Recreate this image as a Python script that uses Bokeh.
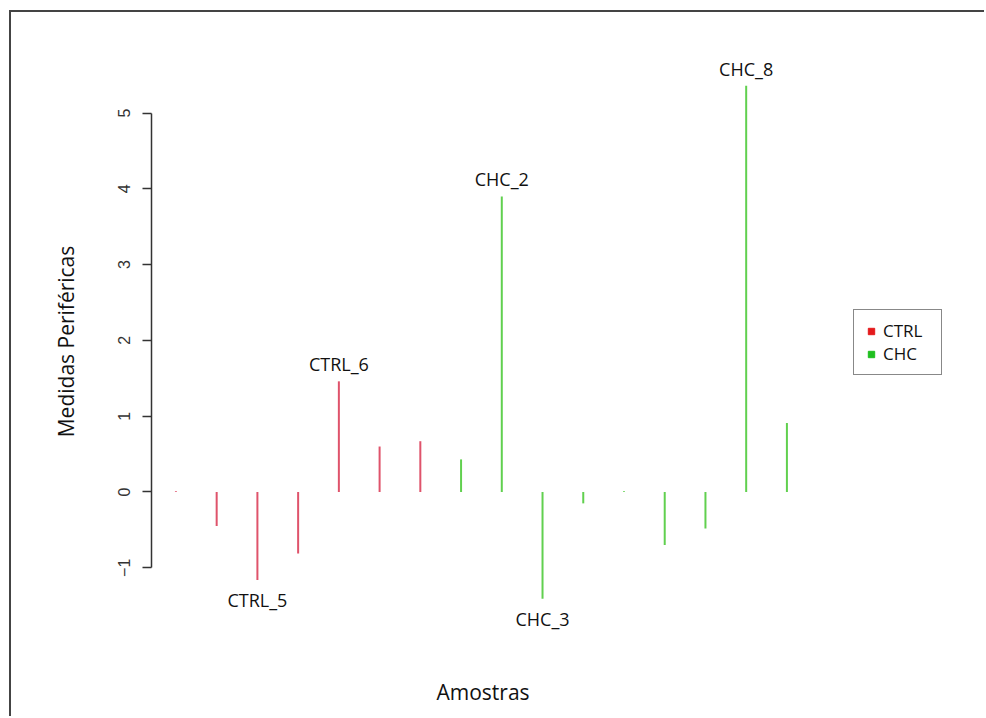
from bokeh.plotting import figure
from bokeh.models import (Range1d, FixedTicker, Legend, LegendItem,
                          ColumnDataSource, LabelSet, Title)
from bokeh.core.properties import value
from bokeh.embed import file_html
from bokeh.resources import INLINE

# ---- data ----
samples = list(range(1, 17))
values = [0.01, -0.45, -1.16, -0.81, 1.46, 0.60, 0.67, 0.43,
          3.90, -1.41, -0.15, 0.01, -0.70, -0.48, 5.36, 0.91]
groups = ["CTRL"] * 7 + ["CHC"] * 9
y_ticks = [-1, 0, 1, 2, 3, 4, 5]

label_idx = [3, 5, 9, 10, 15]
label_txt = ["CTRL_5", "CTRL_6", "CHC_2", "CHC_3", "CHC_8"]

line_colors = {"CTRL": "#DF536B", "CHC": "#61D04F"}
legend_colors = {"CTRL": "#E41A1C", "CHC": "#1FBF1F"}

p = figure(width=975, height=706, output_backend="svg", toolbar_location=None,
           x_range=Range1d(0.4, 20.9), y_range=Range1d(-2.355, 6.326),
           min_border_left=140, min_border_right=0,
           min_border_top=0, min_border_bottom=48)
p.styles = {"margin-left": "9px", "margin-top": "10px",
            "border-left": "2px solid #444444", "border-top": "2px solid #444444"}
p.outline_line_color = None
p.grid.visible = False
p.background_fill_color = "white"
p.border_fill_color = "white"
p.xaxis.visible = False

# stems (type = "h")
src = ColumnDataSource(dict(
    x=samples, y0=[0] * len(values), y1=values,
    color=[line_colors[g] for g in groups]))
p.segment(x0="x", y0="y0", x1="x", y1="y1", color="color", line_width=2, source=src)

# y axis
yax = p.yaxis[0]
yax.ticker = FixedTicker(ticks=y_ticks)
yax.bounds = (min(y_ticks), max(y_ticks))
yax.axis_line_color = "#333333"
yax.axis_line_width = 1.5
yax.major_tick_line_color = "#333333"
yax.major_tick_line_width = 1.5
yax.major_tick_out = 9
yax.major_tick_in = 0
yax.minor_tick_out = 0
yax.minor_tick_in = 0
yax.major_label_orientation = "vertical"
yax.major_label_text_font = "Liberation Sans"
yax.major_label_text_font_size = "16px"
yax.major_label_text_color = "#333333"
yax.major_label_standoff = 12
yax.axis_label = "Medidas Periféricas"
yax.axis_label_text_font = "Open Sans"
yax.axis_label_text_font_size = "21px"
yax.axis_label_text_font_style = "normal"
yax.axis_label_text_color = "#111111"
yax.axis_label_standoff = 36

# x axis title (the plot has no drawn x axis)
p.add_layout(Title(text="Amostras", align="left", offset=285,
                   text_font="Open Sans", text_font_size="21px",
                   text_font_style="normal", text_color="#111111"), "below")

# point labels
above = [i for i, idx in enumerate(label_idx) if values[idx - 1] >= 0]
below = [i for i, idx in enumerate(label_idx) if values[idx - 1] < 0]
for sel, off in ((above, 17), (below, -20)):
    ls_src = ColumnDataSource(dict(
        x=[label_idx[i] for i in sel],
        y=[values[label_idx[i] - 1] for i in sel],
        t=[label_txt[i] for i in sel]))
    p.add_layout(LabelSet(x="x", y="y", text="t", source=ls_src,
                          text_align="center", text_baseline="middle",
                          y_offset=off, text_font=value("Open Sans"),
                          text_font_size="18px", text_color="#111111"))

# legend
items = []
for g in ["CTRL", "CHC"]:
    r = p.scatter(x=[float("nan")], y=[float("nan")], marker="square",
                  color=legend_colors[g], size=7)
    items.append(LegendItem(label=g, renderers=[r]))
legend = Legend(items=items, location=(702, 295), orientation="vertical",
                border_line_color="#111111", border_line_width=1.5,
                background_fill_color="white", background_fill_alpha=1,
                label_text_font="Open Sans", label_text_font_size="17px",
                label_text_color="#111111",
                glyph_width=16, glyph_height=20, spacing=0, padding=9,
                label_standoff=4, label_width=49, margin=0)
p.add_layout(legend)

open("out.html", "w").write(file_html(p, INLINE))
